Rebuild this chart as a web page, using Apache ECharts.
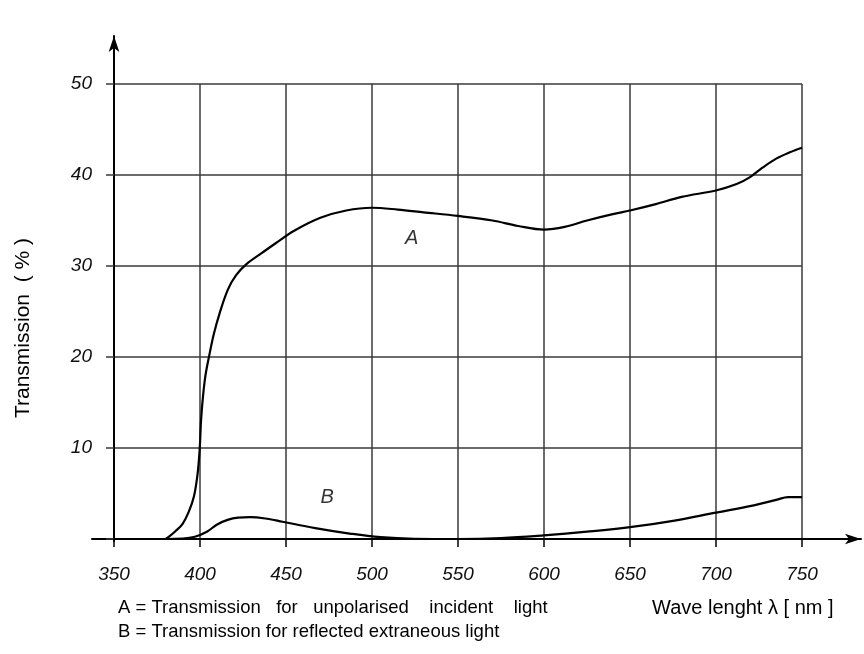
<!DOCTYPE html>
<html>
<head>
<meta charset="utf-8">
<script src="https://cdn.jsdelivr.net/npm/echarts@6/dist/echarts.min.js"></script>
<style>
  html, body { margin: 0; padding: 0; background: #fff; }
  #chart { width: 864px; height: 654px; }
</style>
</head>
<body>
<div id="chart"></div>
<script>
// Wavelength axis (nm) and transmission axis (%)
const xTicks = [350, 400, 450, 500, 550, 600, 650, 700, 750];
const yTicks = [0, 10, 20, 30, 40, 50];

// Curve A: transmission for unpolarised incident light  [nm, %]
const curveA = [
  [380, 0], [382, 0.25], [386, 0.9], [390, 1.7], [393.5, 3.0], [396.5, 4.7],
  [398.5, 7.0], [399.5, 9.0], [400, 10.5], [400.6, 13], [401.7, 15.6],
  [403.2, 18], [405.2, 20], [408, 22.5], [411.4, 24.8], [416.2, 27.4],
  [421, 29.0], [427, 30.2], [435, 31.3], [444, 32.5], [455, 33.9],
  [470, 35.3], [485, 36.1], [500, 36.4], [515, 36.2], [530, 35.9],
  [550, 35.5], [570, 35.0], [585, 34.4], [600, 34.0], [612, 34.3],
  [625, 35.0], [640, 35.7], [650, 36.1], [665, 36.8], [680, 37.6],
  [700, 38.3], [712, 39.0], [720, 39.8], [727, 40.8], [735, 41.8],
  [743, 42.5], [750, 43.0]
];

// Curve B: transmission for reflected extraneous light  [nm, %]
const curveB = [
  [380, 0], [390, 0.05], [397, 0.25], [404, 0.8], [410, 1.6], [416, 2.1],
  [422, 2.35], [429, 2.4], [440, 2.2], [448, 1.9], [467, 1.2], [487, 0.6],
  [505, 0.2], [525, 0.03], [550, 0], [575, 0.1], [600, 0.4], [625, 0.8],
  [650, 1.3], [675, 2.0], [700, 2.9], [722, 3.7], [735, 4.3], [742, 4.6],
  [750, 4.6]
];

// Curve letters placed inside the plot  [nm, %, text]
const curveLabels = [
  [523, 33.0, 'A'],
  [474, 4.6, 'B']
];

const legendLines = [
  'A = Transmission   for   unpolarised    incident    light',
  'B = Transmission for reflected extraneous light'
];
const xTitle = 'Wave lenght \u03bb [ nm ]';
const yTitle = 'Transmission  ( % )';

const INK = '#000';
const GRID = '#3a3a3a';
const tickFont = {
  fontFamily: 'Liberation Sans, Arial, sans-serif',
  fontStyle: 'italic',
  fontSize: 19,
  color: '#111'
};
const textFont = 'Liberation Sans, Arial, sans-serif';

const chart = echarts.init(document.getElementById('chart'), null, { renderer: 'canvas' });

chart.setOption({
  backgroundColor: '#fff',
  animation: false,
  grid: [
    // plotting area with the grid lines
    { left: 114, right: 62, top: 84, bottom: 115 },
    // horizontal axis line with arrow
    { left: 92, right: 3, top: 84, bottom: 115 },
    // vertical axis line with arrow
    { left: 114, right: 62, top: 36, bottom: 113 }
  ],
  xAxis: [
    {
      gridIndex: 0, type: 'value', min: xTicks[0], max: xTicks[xTicks.length - 1], interval: 50,
      axisLine: { show: false },
      axisTick: { show: true, inside: false, length: 8, lineStyle: { color: INK, width: 1.5 } },
      axisLabel: Object.assign({ margin: 26, formatter: v => String(v) }, tickFont),
      splitLine: { show: true, lineStyle: { color: GRID, width: 1.5 } }
    },
    {
      gridIndex: 1, type: 'value', min: 0, max: 1,
      axisLine: { show: true, symbol: ['none', 'arrow'], symbolSize: [8, 16],
        lineStyle: { color: INK, width: 2 } },
      axisTick: { show: false }, axisLabel: { show: false }, splitLine: { show: false }
    },
    {
      gridIndex: 2, type: 'value', min: 0, max: 1, show: false
    }
  ],
  yAxis: [
    {
      gridIndex: 0, type: 'value', min: yTicks[0], max: yTicks[yTicks.length - 1], interval: 10,
      axisLine: { show: false },
      axisTick: { show: true, inside: false, length: 8, lineStyle: { color: GRID, width: 1.5 } },
      axisLabel: Object.assign({ margin: 22, formatter: v => (v === 0 ? '' : String(v)) }, tickFont),
      splitLine: { show: true, lineStyle: { color: GRID, width: 1.5 } }
    },
    {
      gridIndex: 1, type: 'value', min: 0, max: 1, show: false
    },
    {
      gridIndex: 2, type: 'value', min: 0, max: 1,
      axisLine: { show: true, symbol: ['none', 'arrow'], symbolSize: [8, 16],
        lineStyle: { color: INK, width: 2 } },
      axisTick: { show: false }, axisLabel: { show: false }, splitLine: { show: false }
    }
  ],
  series: [
    {
      name: 'A', type: 'line', xAxisIndex: 0, yAxisIndex: 0,
      data: curveA, showSymbol: false, smooth: 0.35,
      lineStyle: { color: INK, width: 2.2 }, z: 5
    },
    {
      name: 'B', type: 'line', xAxisIndex: 0, yAxisIndex: 0,
      data: curveB, showSymbol: false, smooth: 0.4,
      lineStyle: { color: INK, width: 2.2 }, z: 5
    },
    {
      name: 'letters', type: 'scatter', xAxisIndex: 0, yAxisIndex: 0,
      data: curveLabels.map(d => ({ value: [d[0], d[1]], name: d[2] })),
      symbolSize: 0, silent: true,
      label: Object.assign({ show: true, position: 'inside', formatter: p => p.name }, tickFont,
        { fontSize: 20, color: '#000' })
    }
  ],
  graphic: [
    {
      type: 'text', x: 23, y: 328, rotation: Math.PI / 2,
      style: { text: yTitle, font: '21px ' + textFont, fill: INK, textAlign: 'center', textVerticalAlign: 'middle' }
    },
    {
      type: 'text', x: 118, y: 608,
      style: { text: legendLines[0], font: '18.5px ' + textFont, fill: INK, textAlign: 'left', textVerticalAlign: 'middle' }
    },
    {
      type: 'text', x: 118, y: 632,
      style: { text: legendLines[1], font: '18.5px ' + textFont, fill: INK, textAlign: 'left', textVerticalAlign: 'middle' }
    },
    {
      type: 'text', x: 652, y: 608,
      style: { text: xTitle, font: '20px ' + textFont, fill: INK, textAlign: 'left', textVerticalAlign: 'middle' }
    }
  ]
});
</script>
</body>
</html>
